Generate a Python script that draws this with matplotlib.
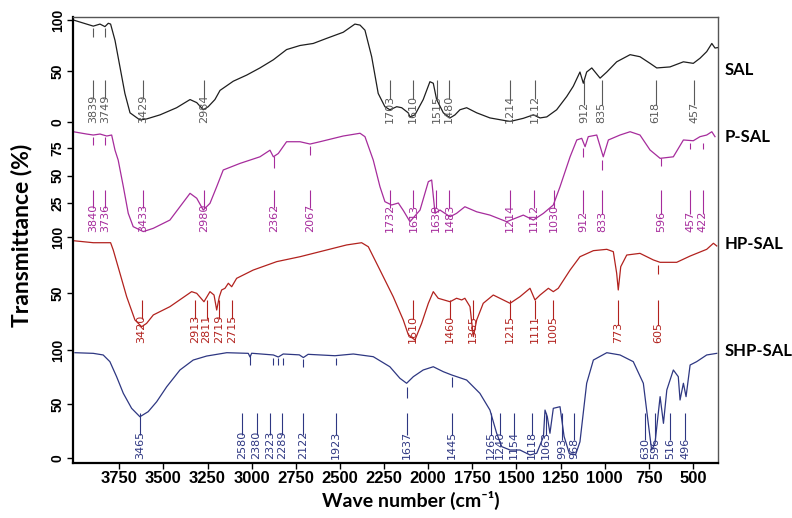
import matplotlib.pyplot as plt
import numpy as np

# ---- spectra (axis wavenumber in cm-1, transmittance in %) ----
SAL_WN = [4010, 3935, 3897, 3859, 3831, 3812, 3799, 3774, 3746, 3718,
          3689, 3633, 3595, 3519, 3425, 3349, 3311, 3274, 3246, 3208,
          3179, 3104, 3028, 2953, 2877, 2802, 2726, 2651, 2575, 2481,
          2415, 2386, 2358, 2320, 2283, 2245, 2217, 2178, 2150, 2113,
          2103, 2075, 2028, 1990, 1971, 1952, 1914, 1876, 1848, 1820,
          1782, 1725, 1650, 1536, 1461, 1404, 1366, 1328, 1272, 1215,
          1178, 1140, 1121, 1102, 1073, 1026, 988, 932, 856, 800,
          743, 705, 630, 554, 498, 460, 422, 393, 375, 358]
SAL_T = [100, 96, 94, 96, 93.5, 96.8, 96, 80, 54, 28,
         9, 2, 3, 7, 14, 22, 19, 12, 15, 22,
         31, 40, 46, 53, 61, 71, 75, 77, 82, 88,
         96, 95, 90, 64, 28, 15, 12, 15, 14, 9,
         5, 7, 22, 39.5, 38, 22, 9, 4, 7, 12,
         14, 9, 4, 0.5, 3.6, 7, 4, 5, 12, 25,
         35, 49, 38, 49, 53, 43, 49, 59, 66, 64,
         57.5, 53, 54, 59, 57.5, 62.5, 69, 77, 72.5, 73]

PSAL_WN = [4010, 3935, 3897, 3859, 3821, 3793, 3774, 3756, 3727, 3699,
           3671, 3614, 3557, 3463, 3349, 3311, 3274, 3236, 3198, 3161,
           3066, 2953, 2896, 2877, 2849, 2802, 2726, 2669, 2613, 2481,
           2386, 2358, 2311, 2273, 2245, 2207, 2169, 2140, 2103, 2046,
           1999, 1980, 1961, 1933, 1876, 1839, 1792, 1725, 1650, 1555,
           1508, 1461, 1404, 1347, 1291, 1253, 1196, 1158, 1130, 1111,
           1093, 1045, 1008, 979, 913, 856, 800, 743, 686, 611,
           554, 498, 460, 422, 393, 375]
PSAL_T = [89.8, 87.7, 86.8, 87.7, 85.9, 86.8, 73, 64, 40, 15.6,
          3.5, -1, 2, 9.5, 33.8, 29.3, 18.6, 24.7, 39.8, 55,
          61, 67, 73, 67, 70, 80.7, 80.7, 78.6, 80.7, 85.9,
          88.4, 85.3, 64, 39.8, 26.2, 23.2, 25, 18, 8, 18.6,
          44.4, 45.9, 15.6, 18.6, 12.5, 15.6, 21.6, 17, 14, 8,
          11, 14, 9.5, 15.6, 23.2, 39.8, 67, 82.3, 83.8, 76.2,
          85.3, 86.8, 67, 82.3, 86.8, 89.8, 86.8, 73.2, 65.6, 67,
          82.3, 81.6, 85.3, 86.8, 89.8, 85.3]

HPSAL_WN = [4010, 3897, 3799, 3784, 3746, 3708, 3661, 3623, 3595, 3557,
            3463, 3340, 3311, 3270, 3236, 3213, 3198, 3183, 3170, 3151,
            3132, 3113, 3085, 2991, 2858, 2726, 2575, 2462, 2377, 2339,
            2273, 2198, 2141, 2113, 2075, 2037, 1999, 1971, 1943, 1876,
            1839, 1810, 1792, 1763, 1744, 1725, 1688, 1631, 1536, 1480,
            1423, 1395, 1366, 1319, 1291, 1263, 1196, 1140, 1064, 988,
            951, 932, 923, 909, 875, 800, 724, 686, 592, 516,
            422, 384, 365]
HPSAL_T = [96.7, 94.9, 94.9, 88.4, 67.6, 46.7, 25.9, 19.9, 22.9, 30.4,
           37.8, 51.2, 49.7, 42.2, 51.2, 48.2, 34.8, 46.7, 52.7, 54.2,
           58.7, 55.6, 63.1, 70.5, 78, 82.4, 88.4, 92.9, 94.9, 91.3,
           70.5, 46.7, 25.9, 13, 8, 22.9, 40.8, 51.2, 45.3, 42.2,
           45.3, 43.8, 45.3, 37.8, 11, 25.9, 40.8, 48.2, 40.8, 46.7,
           54.2, 43.8, 48.2, 54.2, 51.2, 54.2, 70.5, 82.4, 87.8, 89,
           86.9, 67.6, 52.7, 73.5, 83.9, 85.4, 79.5, 77.4, 77.4, 83,
           89, 94.4, 92]

SHPSAL_WN = [4001, 3897, 3841, 3803, 3765, 3727, 3680, 3633, 3586, 3538,
             3481, 3406, 3331, 3255, 3141, 3019, 3009, 3000, 2877, 2849,
             2821, 2730, 2707, 2680, 2528, 2424, 2311, 2217, 2160, 2122,
             2084, 2028, 1971, 1914, 1867, 1782, 1707, 1650, 1612, 1583,
             1536, 1480, 1423, 1385, 1347, 1338, 1325, 1310, 1291, 1253,
             1230, 1200, 1165, 1140, 1102, 1064, 988, 913, 838, 781,
             753, 734, 715, 686, 667, 648, 611, 583, 573, 554,
             539, 516, 479, 422, 365]
SHPSAL_T = [97.5, 96.9, 95.4, 89.2, 75.3, 59.9, 46, 38.2, 42.9, 52.1,
            66, 81.5, 90.7, 94.4, 97.5, 96.9, 93.5, 97, 95.4, 93.5,
            96.3, 95.5, 93, 96, 94.7, 96.3, 93.8, 84.5, 73.8, 69.2,
            75.3, 81.5, 84.5, 79.9, 76.9, 72.2, 59.9, 44.4, 22.9, 10.5,
            7.4, 7.4, 2.8, 4.4, 19.7, 44.4, 38.2, 22.9, 46, 47.5,
            20, 4, 3, 15, 69.2, 90.7, 97.5, 95.4, 89.2, 69.2,
            32.1, 7.4, 13.6, 56.8, 32.1, 63, 81.5, 75.3, 53.7, 69.2,
            56.8, 86.1, 89.2, 95.4, 96.9]

# ---- peak annotations: position on the axis and the printed label ----
SAL_PEAK_WN = [3897, 3831, 3614, 3270, 2217, 2086, 1952, 1882, 1536, 1395, 1117, 1017, 711, 494]
SAL_PEAK_LABELS = ["3839", "3749", "3429", "2984", "1703", "1610", "1515", "1480",
                   "1214", "1112", "912", "835", "618", "457"]

PSAL_PEAK_WN = [3897, 3831, 3614, 3270, 2873, 2669, 2217, 2084, 1956, 1880,
                1536, 1399, 1287, 1121, 1013, 682, 516, 444]
PSAL_PEAK_LABELS = ["3840", "3736", "3433", "2980", "2362", "2067", "1732", "1613", "1639", "1483",
                    "1214", "1112", "1030", "912", "833", "596", "457", "422"]

HPSAL_PEAK_WN = [3623, 3321, 3255, 3185, 3113, 2086, 1876, 1746, 1536, 1395, 1294, 923, 696]
HPSAL_PEAK_LABELS = ["3420", "2913", "2811", "2719", "2715", "1610", "1460", "1365",
                     "1215", "1111", "1005", "773", "605"]

SHPSAL_PEAK_WN = [3633, 3056, 2972, 2896, 2830, 2707, 2522, 2122, 1867, 1644,
                  1593, 1514, 1412, 1332, 1242, 1174, 771, 715, 630, 545]
SHPSAL_PEAK_LABELS = ["3465", "2580", "2380", "2323", "2289", "2122", "1923", "1637", "1445", "1265",
                      "1240", "1154", "1118", "1063", "993", "968", "630", "596", "516", "496"]

# small marks right under the curves: position, upper and lower end (in %)
SAL_TICK_WN = [3897, 3831]
SAL_TICK_HI = [92, 92]
SAL_TICK_LO = [83, 83]
PSAL_TICK_WN = [3897, 3831, 2873, 2669, 1121, 1013, 682, 516, 444]
PSAL_TICK_HI = [85, 85, 68, 77, 75, 64, 66, 80, 80]
PSAL_TICK_LO = [78, 78, 57, 69, 67, 55, 59, 74, 74]
HPSAL_TICK_WN = [696]
HPSAL_TICK_HI = [75]
HPSAL_TICK_LO = [67]
SHPSAL_TICK_WN = [3009, 2877, 2849, 2821, 2707, 2522, 2122, 1867]
SHPSAL_TICK_HI = [95, 93, 93, 93, 92, 93, 66, 75]
SHPSAL_TICK_LO = [86, 86, 86, 86, 84, 86, 56, 66]

NAMES = ["SAL", "P-SAL", "HP-SAL", "SHP-SAL"]
COLORS = ["#1e1e1e", "#a62c9c", "#b2221e", "#2e3782"]
LABEL_COLORS = ["#5a5a5a", "#a62c9c", "#b2221e", "#2e3782"]

# stacking layout: offset and scale of each panel in axes units
BASE = [341, 232.5, 114, 5]
SCALE = [1.02, 1.1, 1.12, 1.08]
LINE_TOP = [41, 36.8, 43.8, 41.7]
TEXT_BOTTOM = [-1, -1.4, 5.4, -0.5]
NAME_Y = [70, 137, 244, 351]

spectra = [(SAL_WN, SAL_T), (PSAL_WN, PSAL_T), (HPSAL_WN, HPSAL_T), (SHPSAL_WN, SHPSAL_T)]
peaks = [(SAL_PEAK_WN, SAL_PEAK_LABELS), (PSAL_PEAK_WN, PSAL_PEAK_LABELS),
         (HPSAL_PEAK_WN, HPSAL_PEAK_LABELS), (SHPSAL_PEAK_WN, SHPSAL_PEAK_LABELS)]
small_ticks = [(SAL_TICK_WN, SAL_TICK_HI, SAL_TICK_LO),
               (PSAL_TICK_WN, PSAL_TICK_HI, PSAL_TICK_LO),
               (HPSAL_TICK_WN, HPSAL_TICK_HI, HPSAL_TICK_LO),
               (SHPSAL_TICK_WN, SHPSAL_TICK_HI, SHPSAL_TICK_LO)]

fig = plt.figure(figsize=(7.92, 5.18), dpi=100)
ax = fig.add_axes([73 / 792, 55 / 518, 645 / 792, 446 / 518])

peak_font = ["Liberation Sans Narrow", "DejaVu Sans"]
for i, (wn, t) in enumerate(spectra):
    b, s = BASE[i], SCALE[i]
    ax.plot(wn, b + s * np.array(t), color=COLORS[i], linewidth=0.9)

    pw, pl = peaks[i]
    for w, lab in zip(pw, pl):
        text_len = (len(lab) * 5.6 + 1.5) / s
        ax.vlines(w, b + s * (TEXT_BOTTOM[i] + text_len), b + s * LINE_TOP[i],
                  color=LABEL_COLORS[i], linewidth=0.8)
        ax.text(w, b + s * TEXT_BOTTOM[i], lab, rotation=90, ha="center", va="bottom",
                fontsize=8, color=LABEL_COLORS[i], family=peak_font)

    tw, thi, tlo = small_ticks[i]
    ax.vlines(tw, b + s * np.array(tlo), b + s * np.array(thi),
              color=LABEL_COLORS[i], linewidth=0.8)

    fig.text(725 / 792, 1 - NAME_Y[i] / 518, NAMES[i], ha="left", va="center",
             fontsize=12, fontweight="bold", family="Lato")

ax.set_xlim(4012, 358)
ax.set_ylim(0, 446)

ax.set_xticks(np.arange(3750, 499, -250))
ax.set_xticklabels([str(v) for v in range(3750, 499, -250)],
                   fontsize=12, fontweight="bold", family="Liberation Sans")

ytick_pos, ytick_lab = [], []
for i, vals in enumerate([[100, 50, 0], [75, 50, 25], [100, 50], [100, 50, 0]]):
    for v in vals:
        ytick_pos.append(BASE[i] + SCALE[i] * v)
        ytick_lab.append(str(v))
ax.set_yticks(ytick_pos)
ax.set_yticklabels(ytick_lab, rotation=90, va="center", fontsize=10,
                   fontweight="bold", family="Liberation Sans")
ax.tick_params(direction="out", length=4, width=1, pad=2)

for side in ["left", "bottom"]:
    ax.spines[side].set_linewidth(1.6)
    ax.spines[side].set_color("black")
for side in ["top", "right"]:
    ax.spines[side].set_linewidth(1.0)
    ax.spines[side].set_color("#555555")

fig.text(411 / 792, 1 - 500 / 518, "Wave number (cm\u207b\u00b9)", ha="center", va="center",
         fontsize=14, fontweight="bold", family=["Lato", "DejaVu Sans"])
fig.text(22 / 792, 1 - 235 / 518, "Transmittance (%)", ha="center", va="center", rotation=90,
         fontsize=16.5, fontweight="bold", family="Lato")

fig.savefig("out.png", dpi=100)
